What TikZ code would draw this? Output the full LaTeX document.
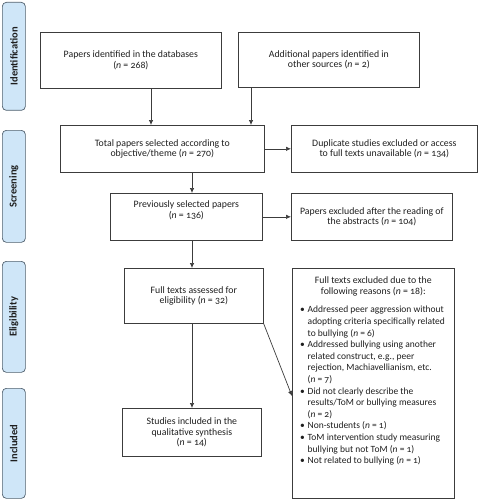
\documentclass[tikz,border=0pt]{standalone}
\usepackage{fontspec}
\setmainfont{Carlito}[Numbers=OldStyle]
\usetikzlibrary{arrows.meta,calc}
\definecolor{boxline}{HTML}{3C3C3C}
\definecolor{sidefill}{HTML}{CFE6F8}
\definecolor{sideline}{HTML}{50606E}
\definecolor{txt}{HTML}{1E1E1E}
\newcommand{\nn}{\textit{n}}
\newcommand{\bul}{\makebox[7.5pt][l]{\textbullet}}
\newcommand{\ind}{\hspace*{7.5pt}}
\begin{document}
\begin{tikzpicture}[x=1pt,y=-1pt,
  font=\fontsize{9.8}{10.8}\selectfont, text=txt,
  box/.style={draw=boxline, line width=0.7pt, rectangle, inner sep=2pt, align=center, anchor=north west},
  side/.style={draw=sideline, fill=sidefill, line width=0.7pt, rounded corners=4pt, anchor=north west, minimum width=23pt, inner sep=0pt},
  sidetext/.style={rotate=90, font=\fontsize{10.5}{12}\selectfont\bfseries},
  arr/.style={draw=boxline, line width=0.7pt, -{Latex[length=5pt,width=4.5pt]}}]
\useasboundingbox (0,0) rectangle (478,500);
% side labels
\node[side, minimum height=108pt] (sid) at (2,2) {};
\node[sidetext] (sidt) at (sid.center) {Identification};
\node[side, minimum height=112pt] (ssc) at (2,130) {};
\node[sidetext] (ssct) at (ssc.center) {Screening};
\node[side, minimum height=111pt] (sel) at (2,261) {};
\node[sidetext] (selt) at (sel.center) {Eligibility};
\node[side, minimum height=110pt] (sin) at (2,388) {};
\node[sidetext] (sint) at (sin.center) {Included};
% boxes
\node[box, minimum width=181pt, minimum height=56pt] (db) at (40,32) {Papers identified in the databases\\(\nn{} = 268)};
\node[box, minimum width=181pt, minimum height=55pt] (add) at (238,32) {Additional papers identified in\\other sources (\nn{} = 2)};
\node[box, minimum width=204pt, minimum height=47pt] (tot) at (60,125) {Total papers selected according to\\objective/theme (\nn{} = 270)};
\node[box, minimum width=186pt, minimum height=47pt] (dup) at (291,125) {Duplicate studies excluded or access\\to full texts unavailable (\nn{} = 134)};
\node[box, minimum width=152pt, minimum height=47pt] (prev) at (110,193) {Previously selected papers\\(\nn{} = 136)\\[3pt]};
\node[box, minimum width=161pt, minimum height=47pt] (abs) at (291,193) {Papers excluded after the reading of\\the abstracts (\nn{} = 104)};
\node[box, minimum width=139pt, minimum height=55pt] (full) at (124,268) {Full texts assessed for\\eligibility (\nn{} = 32)};
\node[box, minimum width=162pt, minimum height=230pt] (excl) at (292,268) {};
\node[anchor=north, align=center, inner sep=0pt, font=\fontsize{9.8}{11}\selectfont] (exclh) at ([yshift=-8pt]excl.north) {Full texts excluded due to the\\following reasons (\nn{} = 18):};
\node[anchor=north west, align=left, inner sep=0pt, font=\fontsize{9.5}{11.6}\selectfont] (exclt) at (300,306) {%
  \bul Addressed peer aggression without\\
  \ind adopting criteria specifically related\\
  \ind to bullying (\nn{} = 6)\\
  \bul Addressed bullying using another\\
  \ind related construct, e.g., peer\\
  \ind rejection, Machiavellianism, etc.\\
  \ind (\nn{} = 7)\\
  \bul Did not clearly describe the\\
  \ind results/ToM or bullying measures\\
  \ind (\nn{} = 2)\\
  \bul Non-students (\nn{} = 1)\\
  \bul ToM intervention study measuring\\
  \ind bullying but not ToM (\nn{} = 1)\\
  \bul Not related to bullying (\nn{} = 1)};
\node[box, minimum width=139pt, minimum height=48pt] (inc) at (122,408) {Studies included in the\\qualitative synthesis\\(\nn{} = 14)};
% connectors
\coordinate (spine) at (192,0);
\coordinate (dbx) at (151,0);
\coordinate (addx) at (251,0);
\coordinate (exclin) at (292,396);
\draw[arr] (db.south -| dbx) -- (tot.north -| dbx);
\draw[arr] (add.south -| addx) -- (tot.north -| addx);
\draw[arr] (tot.east) -- (dup.west);
\draw[arr] (tot.south -| spine) -- (prev.north -| spine);
\draw[arr] (prev.east) -- (abs.west);
\draw[arr] (prev.south -| spine) -- (full.north -| spine);
\draw[arr] (full.south -| spine) -- (inc.north -| spine);
\draw[arr] (full.south east) -- (exclin);
\end{tikzpicture}
\end{document}
